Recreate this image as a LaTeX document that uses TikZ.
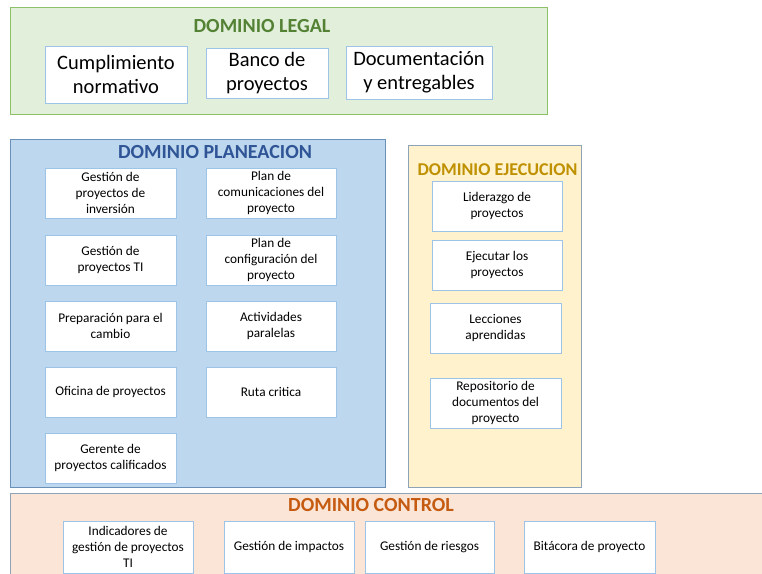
\documentclass[tikz,border=0pt]{standalone}
\usepackage{fontspec}
\setmainfont{Carlito}
\usepackage{tikz}

\definecolor{legalfill}{HTML}{E2EFDA}
\definecolor{legaldraw}{HTML}{8CC168}
\definecolor{legaltext}{HTML}{548235}
\definecolor{planfill}{HTML}{BDD7EE}
\definecolor{plandraw}{HTML}{6A90B8}
\definecolor{plantext}{HTML}{2F5597}
\definecolor{ejecfill}{HTML}{FFF2CC}
\definecolor{ejectext}{HTML}{BF9000}
\definecolor{ctrlfill}{HTML}{FBE5D6}
\definecolor{ctrltext}{HTML}{C55A11}
\definecolor{greydraw}{HTML}{8EA3B8}
\definecolor{itemdraw}{HTML}{9DC3E6}

\tikzset{
  item/.style={draw=itemdraw, line width=1pt, fill=white, align=center,
    inner sep=0pt, font=\fontsize{13.3}{16}\selectfont},
  bigitem/.style={item, font=\fontsize{20.5}{24}\selectfont},
  domtitle/.style={font=\fontsize{20}{22}\selectfont\bfseries, inner sep=0pt}
}

\begin{document}
\begin{tikzpicture}[x=1pt,y=-1pt]
\useasboundingbox (0,0) rectangle (762,573);
\clip (0,0) rectangle (762,573);
% dominio legal
\draw[fill=legalfill, draw=legaldraw, line width=1pt] (10,7) rectangle (547,114);
\node[domtitle, text=legaltext] (legal) at (262,26) {DOMINIO LEGAL};
\node[bigitem, minimum width=142pt, minimum height=57pt] (cumpl) at (116,74.5) {Cumplimiento\\normativo};
\node[bigitem, minimum width=122pt, minimum height=50pt] (banco) at (267,73) {Banco de\\proyectos};
\node[bigitem, minimum width=146pt, minimum height=53pt] (docum) at (419,72.5) {Documentación\\y entregables};
% dominio planeacion
\draw[fill=planfill, draw=plandraw, line width=1pt] (10,139) rectangle (385,487);
\node[domtitle, text=plantext] (plan) at (215,152) {DOMINIO PLANEACION};
\node[item, minimum width=131pt, minimum height=50pt] (invers) at (110.5,193) {Gestión de\\proyectos de\\inversión};
\node[item, minimum width=131pt, minimum height=50pt] (gestti) at (110.5,260) {Gestión de\\proyectos TI};
\node[item, minimum width=131pt, minimum height=50pt] (cambio) at (110.5,326) {Preparación para el\\cambio};
\node[item, minimum width=131pt, minimum height=50pt] (oficina) at (110.5,392) {Oficina de proyectos};
\node[item, minimum width=131pt, minimum height=50pt] (gerente) at (110.5,458) {Gerente de\\proyectos calificados};
\node[item, minimum width=130pt, minimum height=50pt] (comunic) at (271,193) {Plan de\\comunicaciones del\\proyecto};
\node[item, minimum width=130pt, minimum height=50pt] (config) at (271,260) {Plan de\\configuración del\\proyecto};
\node[item, minimum width=130pt, minimum height=50pt] (activ) at (271,326) {Actividades\\paralelas};
\node[item, minimum width=130pt, minimum height=50pt] (ruta) at (271,392) {Ruta critica};
% dominio ejecucion
\draw[fill=ejecfill, draw=greydraw, line width=1pt] (408,145) rectangle (581,487);
\node[domtitle, text=ejectext, font=\fontsize{18}{20}\selectfont\bfseries] (ejec) at (497.5,170) {DOMINIO EJECUCION};
\node[item, minimum width=130pt, minimum height=50pt] (lider) at (497,206) {Liderazgo de\\proyectos};
\node[item, minimum width=130pt, minimum height=50pt] (ejecut) at (497,265) {Ejecutar los\\proyectos};
\node[item, minimum width=131pt, minimum height=50pt] (lecc) at (495.5,328) {Lecciones\\aprendidas};
\node[item, minimum width=131pt, minimum height=50pt] (repos) at (495.5,403) {Repositorio de\\documentos del\\proyecto};
% dominio control
\draw[fill=ctrlfill, draw=greydraw, line width=1pt] (10,493) rectangle (770,590);
\node[domtitle, text=ctrltext] (ctrl) at (371,505) {DOMINIO CONTROL};
\node[item, minimum width=130pt, minimum height=52pt] (indic) at (128,547) {Indicadores de\\gestión de proyectos\\TI};
\node[item, minimum width=130pt, minimum height=52pt] (impact) at (289,547) {Gestión de impactos};
\node[item, minimum width=129pt, minimum height=52pt] (riesg) at (429.5,547) {Gestión de riesgos};
\node[item, minimum width=131pt, minimum height=52pt] (bitac) at (589.5,547) {Bitácora de proyecto};
\end{tikzpicture}
\end{document}
